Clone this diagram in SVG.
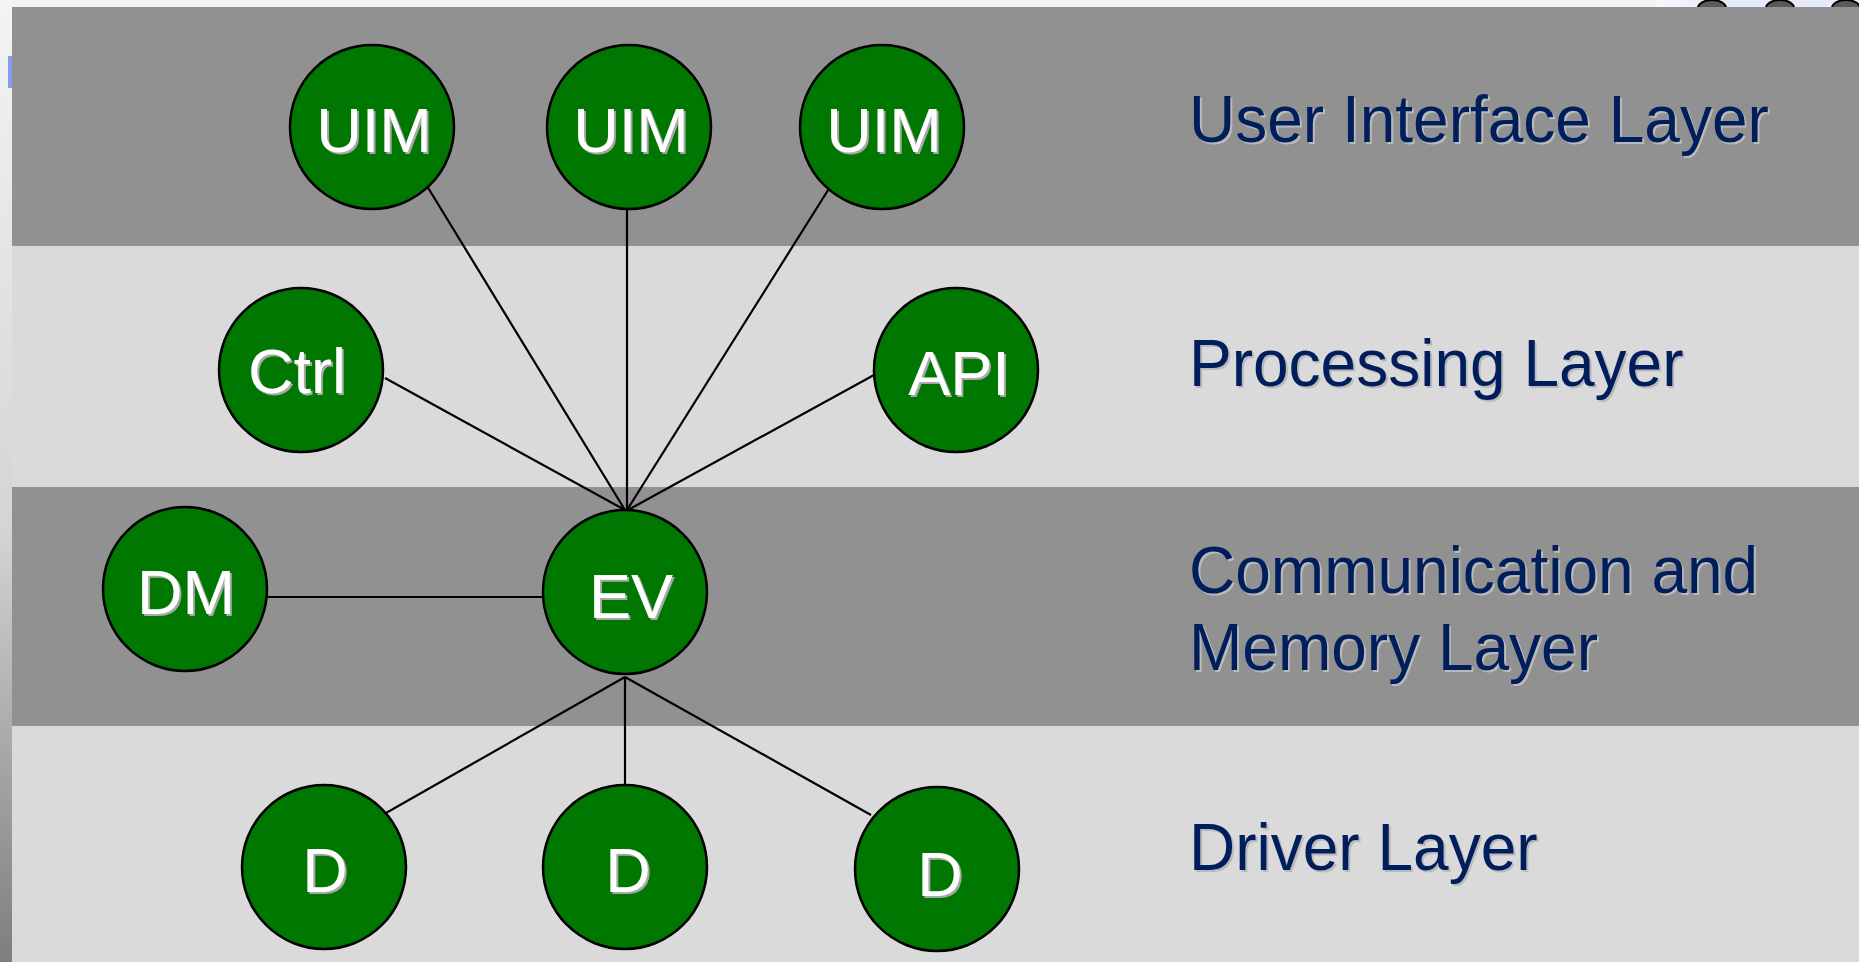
<svg xmlns="http://www.w3.org/2000/svg" width="1859" height="962" viewBox="0 0 1859 962">
<defs>
<linearGradient id="leftStrip" x1="0" y1="0" x2="0" y2="1">
<stop offset="0" stop-color="#f4f4f4"/>
<stop offset="0.55" stop-color="#d4d4d4"/>
<stop offset="1" stop-color="#7e7e7e"/>
</linearGradient>
<linearGradient id="topRight" x1="0" y1="0" x2="1" y2="0">
<stop offset="0" stop-color="#f8f8fc"/>
<stop offset="0.3" stop-color="#e6eafa"/>
<stop offset="1" stop-color="#e6eafa"/>
</linearGradient>
</defs>
<style>
.dark{fill:#919191}
.light{fill:#dadada}
.node circle{fill:#007700;stroke:#000;stroke-width:2.5}
.nl{font-family:"Liberation Sans",Arial,sans-serif;font-size:63px;text-anchor:middle;fill:#ffffff}
.ns{font-family:"Liberation Sans",Arial,sans-serif;font-size:63px;text-anchor:middle;fill:#a8a8a8}
.ll{font-family:"Liberation Sans",Arial,sans-serif;font-size:66px;fill:#001e5c}
.ls{font-family:"Liberation Sans",Arial,sans-serif;font-size:66px;fill:#bababa}
.edges line{stroke:#000;stroke-width:2.2}
</style>
<rect x="0" y="0" width="1859" height="962" fill="#f2f2f2"/>
<rect x="1656" y="0" width="203" height="10" fill="url(#topRight)"/>
<g fill="#5a5a5a" stroke="#000" stroke-width="2">
<ellipse cx="1712" cy="8" rx="14" ry="8"/>
<ellipse cx="1780" cy="8" rx="14" ry="8"/>
<ellipse cx="1846" cy="8" rx="14" ry="8"/>
</g>
<rect x="0" y="0" width="12" height="962" fill="url(#leftStrip)"/>
<rect x="8" y="56" width="4" height="32" fill="#8a9cf0"/>
<g id="bands">
<rect class="dark" x="12" y="7" width="1847" height="239"/>
<rect class="light" x="12" y="246" width="1847" height="241"/>
<rect class="dark" x="12" y="487" width="1847" height="239"/>
<rect class="light" x="12" y="726" width="1847" height="236"/>
</g>
<g id="layer-labels" transform="translate(1189,0) scale(0.97,1)">
<text class="ls" x="2" y="144">User Interface Layer</text>
<text class="ll" x="0" y="142">User Interface Layer</text>
<text class="ls" x="2" y="388">Processing Layer</text>
<text class="ll" x="0" y="386">Processing Layer</text>
<text class="ls" x="2" y="595">Communication and</text>
<text class="ll" x="0" y="593">Communication and</text>
<text class="ls" x="2" y="672">Memory Layer</text>
<text class="ll" x="0" y="670">Memory Layer</text>
<text class="ls" x="2" y="872">Driver Layer</text>
<text class="ll" x="0" y="870">Driver Layer</text>
</g>
<g id="connectors" class="edges">
<line x1="427" y1="186" x2="625" y2="510"/>
<line x1="627" y1="209" x2="627" y2="510"/>
<line x1="830" y1="187" x2="627" y2="510"/>
<line x1="385" y1="378" x2="625" y2="510"/>
<line x1="874" y1="375" x2="628" y2="510"/>
<line x1="268" y1="597" x2="543" y2="597"/>
<line x1="625" y1="677" x2="386" y2="813"/>
<line x1="625" y1="677" x2="625" y2="785"/>
<line x1="625" y1="677" x2="871" y2="815"/>
</g>
<g id="uim1" class="node"><circle cx="372" cy="127" r="82"/><text class="ns" x="376" y="154">UIM</text><text class="nl" x="374" y="152">UIM</text></g>
<g id="uim2" class="node"><circle cx="629" cy="127" r="82"/><text class="ns" x="633" y="154">UIM</text><text class="nl" x="631" y="152">UIM</text></g>
<g id="uim3" class="node"><circle cx="882" cy="127" r="82"/><text class="ns" x="886" y="154">UIM</text><text class="nl" x="884" y="152">UIM</text></g>
<g id="ctrl" class="node"><circle cx="301" cy="370" r="82"/><text class="ns" x="299" y="395">Ctrl</text><text class="nl" x="297" y="393">Ctrl</text></g>
<g id="api" class="node"><circle cx="956" cy="370" r="82"/><text class="ns" x="961" y="397">API</text><text class="nl" x="959" y="395">API</text></g>
<g id="dm" class="node"><circle cx="185" cy="589" r="82"/><text class="ns" x="188" y="616">DM</text><text class="nl" x="186" y="614">DM</text></g>
<g id="ev" class="node"><circle cx="625" cy="592" r="82"/><text class="ns" x="633" y="620">EV</text><text class="nl" x="631" y="618">EV</text></g>
<g id="d1" class="node"><circle cx="324" cy="867" r="82"/><text class="ns" x="327" y="894">D</text><text class="nl" x="325" y="892">D</text></g>
<g id="d2" class="node"><circle cx="625" cy="867" r="82"/><text class="ns" x="630" y="894">D</text><text class="nl" x="628" y="892">D</text></g>
<g id="d3" class="node"><circle cx="937" cy="869" r="82"/><text class="ns" x="942" y="898">D</text><text class="nl" x="940" y="896">D</text></g>
</svg>
